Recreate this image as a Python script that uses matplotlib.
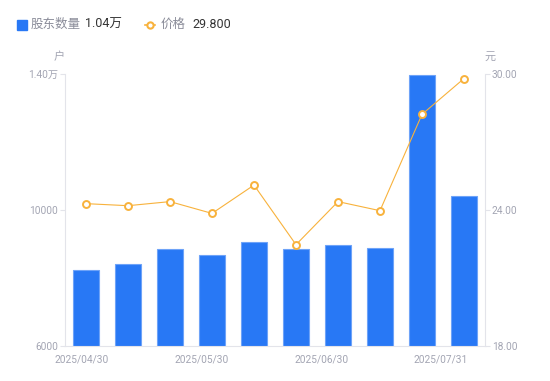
import numpy as np
import matplotlib
matplotlib.use("Agg")
import matplotlib.pyplot as plt
from matplotlib.lines import Line2D

plt.rcParams['font.family'] = ['Roboto', 'Noto Sans CJK SC', 'DejaVu Sans']

# data
dates = ['2025/04/30', '2025/05/09', '2025/05/20', '2025/05/30', '2025/06/10',
         '2025/06/20', '2025/06/30', '2025/07/10', '2025/07/20', '2025/07/31']
holders = [8235, 8403, 8862, 8668, 9050, 8844, 8962, 8882, 13979, 10403]
price = [24.28, 24.19, 24.37, 23.85, 25.10, 22.47, 24.37, 23.97, 28.22, 29.80]

left_ticks = [6000, 10000, 14000]
left_labels = ['6000', '10000', '1.40万']
right_ticks = [18, 24, 30]
right_labels = ['18.00', '24.00', '30.00']
shown_dates = ['2025/04/30', '2025/05/30', '2025/06/30', '2025/07/31']

bar_c = '#2878f5'
bar_edge = '#6ea3f8'
line_c = '#f8b23c'
txt_c = '#a3a5b3'
axis_c = '#e3e4ea'
dark = '#333333'

fig = plt.figure(figsize=(5.5, 3.81), dpi=100)
ax = fig.add_axes([65/550, 35/381, 420/550, 272/381])
ax2 = ax.twinx()

x = np.arange(len(dates))
ax.bar(x, holders, width=0.6, color=bar_c, edgecolor=bar_edge, linewidth=0.8, zorder=2)
ax2.plot(x, price, color=line_c, lw=0.8, marker='o', ms=5, mfc='white',
         mec=line_c, mew=1.4, zorder=3)

ax.set_xlim(-0.5, len(dates) - 0.5)
ax.set_ylim(6000, 14000)
ax2.set_ylim(18, 30)

ax.set_yticks(left_ticks)
ax.set_yticklabels(left_labels)
ax2.set_yticks(right_ticks)
ax2.set_yticklabels(right_labels)

# x labels spread evenly like the reference
ax.set_xticks(np.linspace(-0.1, 8.45, len(shown_dates)))
ax.set_xticklabels(shown_dates)

for a in (ax, ax2):
    for s in a.spines.values():
        s.set_visible(False)
    a.tick_params(axis='both', colors=axis_c, labelcolor=txt_c, labelsize=7.3,
                  length=3.5, width=0.8, pad=1.5)
ax.tick_params(axis='x', length=0, pad=6)
ax.spines['left'].set_visible(True)
ax.spines['left'].set_color(axis_c)
ax.spines['bottom'].set_visible(True)
ax.spines['bottom'].set_color(axis_c)
ax2.spines['right'].set_visible(True)
ax2.spines['right'].set_color(axis_c)
ax.set_zorder(ax2.get_zorder() - 1)
ax.patch.set_visible(False)
ax2.patch.set_visible(False)

# unit labels
fig.text(59/550, 1 - 57/381, '户', color=txt_c, fontsize=8, ha='center', va='center')
fig.text(490/550, 1 - 57/381, '元', color=txt_c, fontsize=8, ha='center', va='center')

# legend
ly = 1 - 24.5/381
fig.add_artist(Line2D([21.5/550], [ly], marker='s', ms=6.5, color=bar_c, lw=0,
                      transform=fig.transFigure))
fig.text(31/550, ly, '股东数量', color='#8a8c99', fontsize=9, va='center')
fig.text(85/550, ly, f'{holders[-1]/10000:.2f}万', color=dark, fontsize=9, va='center')
fig.add_artist(Line2D([145/550, 155/550], [ly, ly], color=line_c, lw=1.2,
                      transform=fig.transFigure))
fig.add_artist(Line2D([150/550], [ly], marker='o', ms=4.5, mfc='white', mec=line_c,
                      mew=1.5, lw=0, transform=fig.transFigure))
fig.text(161/550, ly, '价格', color='#8a8c99', fontsize=9, va='center')
fig.text(192/550, ly, f'{price[-1]:.3f}', color=dark, fontsize=9, va='center')

fig.savefig('out.png', dpi=100)
